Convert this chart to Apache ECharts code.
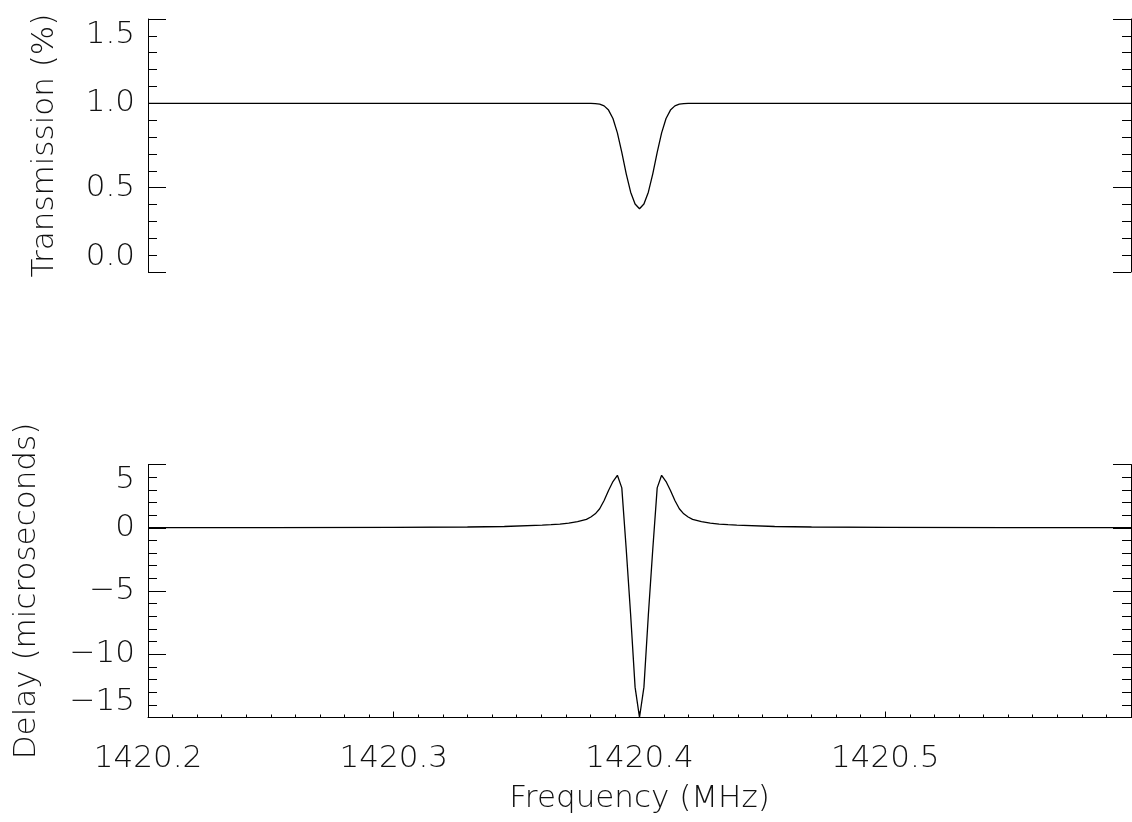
<!DOCTYPE html>
<html><head><meta charset="utf-8">
<script src="https://cdn.jsdelivr.net/npm/echarts@6/dist/echarts.min.js"></script>
<style>html,body{margin:0;padding:0;background:#fff}#c{width:1132px;height:822px}</style>
</head><body><div id="c"></div>
<script>
// Frequency samples (MHz)
const freqMHz = [
  1420.2, 1420.25, 1420.3, 1420.33, 1420.345,
  1420.3604, 1420.364, 1420.3676, 1420.3712, 1420.3748, 1420.3784,
  1420.3802, 1420.382, 1420.3838, 1420.3856, 1420.3874, 1420.3892, 1420.391, 1420.3928, 1420.3946, 1420.3964, 1420.3982,
  1420.4,
  1420.4018, 1420.4036, 1420.4054, 1420.4072, 1420.409, 1420.4108, 1420.4126, 1420.4144, 1420.4162, 1420.418, 1420.4198,
  1420.4216, 1420.4252, 1420.4288, 1420.4324, 1420.436, 1420.4396,
  1420.455, 1420.47, 1420.5, 1420.55, 1420.6
];
// Transmission (fraction)
const transmission = [
  1, 1, 1, 1, 1,
  1, 1, 1, 1, 1, 1,
  1.0, 0.998, 0.995, 0.985, 0.96, 0.91, 0.825, 0.709, 0.582, 0.473, 0.403,
  0.375,
  0.403, 0.473, 0.582, 0.709, 0.825, 0.91, 0.96, 0.985, 0.995, 0.998, 1.0,
  1, 1, 1, 1, 1, 1,
  1, 1, 1, 1, 1
];
// Delay (microseconds)
const delayMicroseconds = [
  0.01, 0.01, 0.03, 0.06, 0.10,
  0.20, 0.24, 0.29, 0.37, 0.48, 0.66,
  0.85, 1.1, 1.5, 2.15, 2.95, 3.65, 4.15, 3.15, -1.7, -6.9, -12.6,
  -15.0,
  -12.6, -6.9, -1.7, 3.15, 4.15, 3.65, 2.95, 2.15, 1.5, 1.1, 0.85,
  0.66, 0.48, 0.37, 0.29, 0.24, 0.20,
  0.10, 0.06, 0.03, 0.01, 0.01
];
const xRange = [1420.2, 1420.6];
const transRange = [0, 1.5];
const delayRange = [-15, 5];

const FONT = 'DejaVu Sans';
const txt = {fontFamily: FONT, fontSize: 31, fontWeight: 200, color: '#111'};
const lineStyle = {color: '#000', width: 1};

function yAxisPair(gridIndex, range, interval, name, nameGap, fmt) {
  const common = {
    type: 'value', gridIndex, min: range[0], max: range[1], interval,
    axisLine: {show: true, onZero: false, lineStyle},
    axisTick: {show: true, inside: true, length: 18, lineStyle},
    minorTick: {show: true, splitNumber: 5, length: 9, lineStyle},
    splitLine: {show: false}, minorSplitLine: {show: false}
  };
  return [
    Object.assign({}, common, {
      position: 'left',
      name, nameLocation: 'middle', nameGap, nameRotate: 90,
      nameTextStyle: Object.assign({}, txt),
      axisLabel: Object.assign({}, txt, {
        margin: 13, formatter: fmt,
        verticalAlignMinLabel: 'bottom', verticalAlignMaxLabel: 'top'
      })
    }),
    Object.assign({}, common, {position: 'right', axisLabel: {show: false}})
  ];
}

const chart = echarts.init(document.getElementById('c'), null, {renderer: 'canvas'});
const yAxes = [
  ...yAxisPair(0, transRange, 0.5, 'Transmission (%)', 88, v => v.toFixed(1)),
  ...yAxisPair(1, delayRange, 5, 'Delay (microseconds)', 106, v => String(v).replace('-', '\u2212'))
];
chart.setOption({
  animation: false,
  backgroundColor: '#fff',
  grid: [
    {left: 148, right: 1, top: 19, height: 253},
    {left: 148, right: 1, top: 464.5, height: 253}
  ],
  xAxis: [
    {type: 'value', gridIndex: 0, min: xRange[0], max: xRange[1], show: false},
    {
      type: 'value', gridIndex: 1, min: xRange[0], max: xRange[1], interval: 0.1,
      position: 'bottom',
      axisLine: {show: true, onZero: false, lineStyle},
      axisTick: {show: true, inside: true, length: 6, lineStyle},
      minorTick: {show: true, splitNumber: 10, length: 3, lineStyle},
      splitLine: {show: false},
      axisLabel: Object.assign({}, txt, {
        margin: 26, showMaxLabel: false,
        formatter: v => (v > 1420.55 ? '' : v.toFixed(1))
      }),
      name: 'Frequency (MHz)', nameLocation: 'middle', nameGap: 66,
      nameTextStyle: Object.assign({}, txt)
    }
  ],
  yAxis: yAxes,
  series: [
    {
      type: 'line', xAxisIndex: 0, yAxisIndex: 0, showSymbol: false, smooth: false,
      lineStyle: {color: '#000', width: 1.3},
      data: freqMHz.map((f, i) => [f, transmission[i]])
    },
    {
      type: 'line', xAxisIndex: 1, yAxisIndex: 2, showSymbol: false, smooth: false,
      lineStyle: {color: '#000', width: 1.3},
      data: freqMHz.map((f, i) => [f, delayMicroseconds[i]])
    }
  ]
});
</script>
</body></html>
